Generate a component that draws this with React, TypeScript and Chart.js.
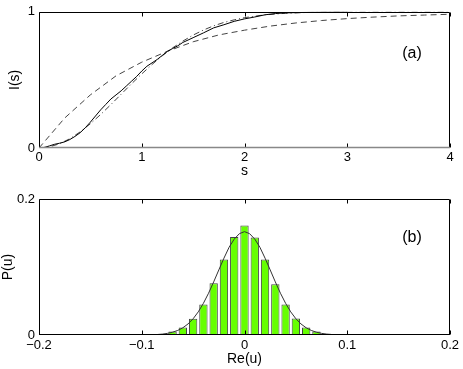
import React, { useEffect, useRef } from 'react';
import { Chart, registerables } from 'chart.js';

Chart.register(...registerables);

const FONT = "'Liberation Sans', Arial, Helvetica, sans-serif";

// ---- Panel (a): cumulative spacing distribution I(s) ----
const sData = [0, 0.05, 0.1, 0.15, 0.2, 0.25, 0.3, 0.35, 0.4, 0.45, 0.5, 0.55, 0.6, 0.65, 0.7, 0.75, 0.8, 0.85, 0.9, 0.95, 1.0, 1.05, 1.1, 1.15, 1.2, 1.25, 1.3, 1.35, 1.4, 1.5, 1.6, 1.7, 1.8, 1.9, 2.0, 2.1, 2.2, 2.3, 2.4, 2.6, 2.8, 3.0];
const iData = [0, 0.004, 0.015, 0.027, 0.035, 0.045, 0.062, 0.085, 0.112, 0.148, 0.19, 0.235, 0.28, 0.32, 0.36, 0.39, 0.42, 0.455, 0.49, 0.525, 0.565, 0.6, 0.625, 0.65, 0.68, 0.71, 0.73, 0.75, 0.775, 0.81, 0.845, 0.882, 0.905, 0.93, 0.948, 0.962, 0.978, 0.987, 0.992, 0.996, 0.999, 1];

const sTheory = [0, 0.1, 0.2, 0.3, 0.4, 0.5, 0.6, 0.7, 0.8, 0.9, 1.0, 1.1, 1.2, 1.3, 1.4, 1.5, 1.6, 1.7, 1.8, 1.9, 2.0, 2.2, 2.4, 2.6, 2.8, 3.0, 3.5, 4.0];
const iTheory = [0, 0.008, 0.031, 0.068, 0.118, 0.178, 0.246, 0.319, 0.395, 0.471, 0.544, 0.613, 0.677, 0.735, 0.785, 0.829, 0.866, 0.897, 0.922, 0.941, 0.957, 0.978, 0.989, 0.995, 0.998, 0.999, 1, 1];

const sPoisson = [0, 0.25, 0.5, 0.75, 1, 1.25, 1.5, 1.75, 2, 2.25, 2.5, 2.75, 3, 3.25, 3.5, 3.75, 4];
const iPoisson = [0, 0.22, 0.39, 0.53, 0.63, 0.71, 0.78, 0.83, 0.865, 0.895, 0.918, 0.936, 0.95, 0.961, 0.97, 0.976, 0.982];

const sTicks = [0, 1, 2, 3, 4];
const iTicks = [0, 1];

// ---- Panel (b): histogram P(u) of Re(u) ----
const uBins = [-0.09, -0.08, -0.07, -0.06, -0.05, -0.04, -0.03, -0.02, -0.01, 0, 0.01, 0.02, 0.03, 0.04, 0.05, 0.06, 0.07, 0.08, 0.09];
const pBins = [0.0005, 0.0015, 0.005, 0.011, 0.024, 0.045, 0.076, 0.111, 0.144, 0.161, 0.1435, 0.111, 0.0745, 0.0448, 0.0242, 0.011, 0.005, 0.002, 0.0007];

const uFit = [-0.1, -0.095, -0.09, -0.085, -0.08, -0.075, -0.07, -0.065, -0.06, -0.055, -0.05, -0.045, -0.04, -0.035, -0.03, -0.025, -0.02, -0.015, -0.01, -0.005, 0, 0.005, 0.01, 0.015, 0.02, 0.025, 0.03, 0.035, 0.04, 0.045, 0.05, 0.055, 0.06, 0.065, 0.07, 0.075, 0.08, 0.085, 0.09, 0.095, 0.1];
const pFit = [0.0001, 0.0002, 0.0004, 0.0007, 0.0013, 0.0024, 0.0041, 0.0067, 0.0106, 0.0162, 0.0239, 0.034, 0.0466, 0.0614, 0.0781, 0.0957, 0.113, 0.129, 0.141, 0.149, 0.152, 0.149, 0.141, 0.129, 0.113, 0.0957, 0.0781, 0.0614, 0.0466, 0.034, 0.0239, 0.0162, 0.0106, 0.0067, 0.0041, 0.0024, 0.0013, 0.0007, 0.0004, 0.0002, 0.0001];

const uTicks = [-0.2, -0.1, 0, 0.1, 0.2];
const pTicks = [0, 0.2];

const zip = (xs: number[], ys: number[]) => xs.map((x, i) => ({ x, y: ys[i] }));

const fmt = (v: number) => {
  const r = Math.round(v * 1000) / 1000;
  if (r === 0) return '0';
  return String(r).replace('-', '\u2212');
};

const framePlugin = (bottomColor: string, bottomWidth: number) => ({
  id: 'frame',
  afterDraw(chart: any) {
    const { ctx, chartArea: a, scales } = chart;
    const L = Math.round(a.left) + 0.5;
    const R = Math.round(a.right) - 0.5;
    const T = Math.round(a.top) + 0.5;
    const B = Math.round(a.bottom) - 0.5;
    ctx.save();
    ctx.strokeStyle = '#000';
    ctx.lineWidth = 1;
    const xs = scales.x;
    xs.ticks.forEach((t: any) => {
      const px = Math.round(xs.getPixelForValue(t.value)) + 0.5;
      ctx.beginPath();
      ctx.moveTo(px, T);
      ctx.lineTo(px, T + 4);
      ctx.moveTo(px, B);
      ctx.lineTo(px, B - 4);
      ctx.stroke();
    });
    ctx.beginPath();
    ctx.moveTo(L, B);
    ctx.lineTo(L, T);
    ctx.lineTo(R, T);
    ctx.lineTo(R, B);
    ctx.stroke();
    ctx.strokeStyle = bottomColor;
    ctx.lineWidth = bottomWidth;
    ctx.beginPath();
    ctx.moveTo(L - 0.5, B);
    ctx.lineTo(R + 0.5, B);
    ctx.stroke();
    ctx.restore();
  },
});

const labelPlugin = (text: string, vx: number, vy: number) => ({
  id: 'panelLabel',
  afterDraw(chart: any) {
    const { ctx, scales } = chart;
    ctx.save();
    ctx.fillStyle = '#000';
    ctx.font = `16px ${FONT}`;
    ctx.textAlign = 'center';
    ctx.textBaseline = 'middle';
    ctx.fillText(text, scales.x.getPixelForValue(vx), scales.y.getPixelForValue(vy));
    ctx.restore();
  },
});

export default function App() {
  const topRef = useRef<HTMLCanvasElement>(null);
  const botRef = useRef<HTMLCanvasElement>(null);

  useEffect(() => {
    Chart.defaults.font.family = FONT;
    Chart.defaults.color = '#000';

    const tickFont = { size: 13, family: FONT };
    const titleFont = { size: 14, family: FONT };

    const top = new Chart(topRef.current as HTMLCanvasElement, {
      type: 'scatter',
      data: {
        datasets: [
          { data: zip(sData, iData), showLine: true, borderColor: '#000', borderWidth: 1, pointRadius: 0, fill: false },
          { data: zip(sTheory, iTheory), showLine: true, borderColor: '#444', borderWidth: 1, borderDash: [6, 3, 1, 3], pointRadius: 0, fill: false },
          { data: zip(sPoisson, iPoisson), showLine: true, borderColor: '#444', borderWidth: 1, borderDash: [6, 4], pointRadius: 0, fill: false },
        ],
      },
      options: {
        animation: false,
        responsive: false,
        events: [],
        layout: { padding: { top: 11, right: 13, left: 0, bottom: 0 } },
        plugins: { legend: { display: false }, tooltip: { enabled: false } },
        scales: {
          x: {
            type: 'linear', min: 0, max: 4,
            afterBuildTicks: (s: any) => { s.ticks = sTicks.map((v) => ({ value: v })); },
            ticks: { padding: 2, color: '#000', font: tickFont, maxRotation: 0, callback: (v: any) => fmt(Number(v)) },
            grid: { display: false, drawTicks: false },
            border: { display: false },
            title: { display: true, text: 's', color: '#000', font: titleFont, padding: { top: 0, bottom: 5 } },
            afterFit: (s: any) => { s.height = 37; },
          },
          y: {
            type: 'linear', min: 0, max: 1,
            afterBuildTicks: (s: any) => { s.ticks = iTicks.map((v) => ({ value: v })); },
            ticks: { padding: 4, color: '#000', font: tickFont, callback: (v: any) => fmt(Number(v)) },
            grid: { display: false, drawTicks: false },
            border: { display: false },
            title: { display: true, text: 'I(s)', color: '#000', font: titleFont, padding: { top: 7, bottom: 0 } },
            afterFit: (s: any) => { s.width = 39; },
          },
        },
      } as any,
      plugins: [framePlugin('#888', 1.5), labelPlugin('(a)', 3.63, 0.69)],
    });

    const bot = new Chart(botRef.current as HTMLCanvasElement, {
      type: 'bar',
      data: {
        datasets: [
          { type: 'line', data: zip(uFit, pFit), borderColor: '#333', borderWidth: 1, pointRadius: 0, fill: false, order: 0 } as any,
          { type: 'bar', data: zip(uBins, pBins), backgroundColor: 'rgb(102,255,0)', borderColor: '#444', borderWidth: 1, barPercentage: 0.9, categoryPercentage: 0.9, order: 1 } as any,
        ],
      },
      options: {
        animation: false,
        responsive: false,
        events: [],
        layout: { padding: { top: 14, right: 13, left: 0, bottom: 0 } },
        plugins: { legend: { display: false }, tooltip: { enabled: false } },
        scales: {
          x: {
            type: 'linear', min: -0.2, max: 0.2, offset: false,
            afterBuildTicks: (s: any) => { s.ticks = uTicks.map((v) => ({ value: v })); },
            ticks: { padding: 3, color: '#000', font: tickFont, maxRotation: 0, callback: (v: any) => fmt(Number(v)) },
            grid: { display: false, drawTicks: false, offset: false },
            border: { display: false },
            title: { display: true, text: 'Re(u)', color: '#000', font: titleFont, padding: { top: 0, bottom: 1 } },
            afterFit: (s: any) => { s.height = 34; },
          },
          y: {
            type: 'linear', min: 0, max: 0.2,
            afterBuildTicks: (s: any) => { s.ticks = pTicks.map((v) => ({ value: v })); },
            ticks: { padding: 4, color: '#000', font: tickFont, callback: (v: any) => fmt(Number(v)) },
            grid: { display: false, drawTicks: false },
            border: { display: false },
            title: { display: true, text: 'P(u)', color: '#000', font: titleFont, padding: { top: 0, bottom: 0 } },
            afterFit: (s: any) => { s.width = 39; },
          },
        },
      } as any,
      plugins: [framePlugin('#000', 1), labelPlugin('(b)', 0.163, 0.143)],
    });

    return () => {
      top.destroy();
      bot.destroy();
    };
  }, []);

  return (
    <div style={{ position: 'absolute', left: 0, top: 0, width: 463, height: 369, background: '#fff' }}>
      <canvas ref={topRef} width={463} height={185} style={{ position: 'absolute', left: 0, top: 0, display: 'block' }} />
      <canvas ref={botRef} width={463} height={184} style={{ position: 'absolute', left: 0, top: 185, display: 'block' }} />
    </div>
  );
}
